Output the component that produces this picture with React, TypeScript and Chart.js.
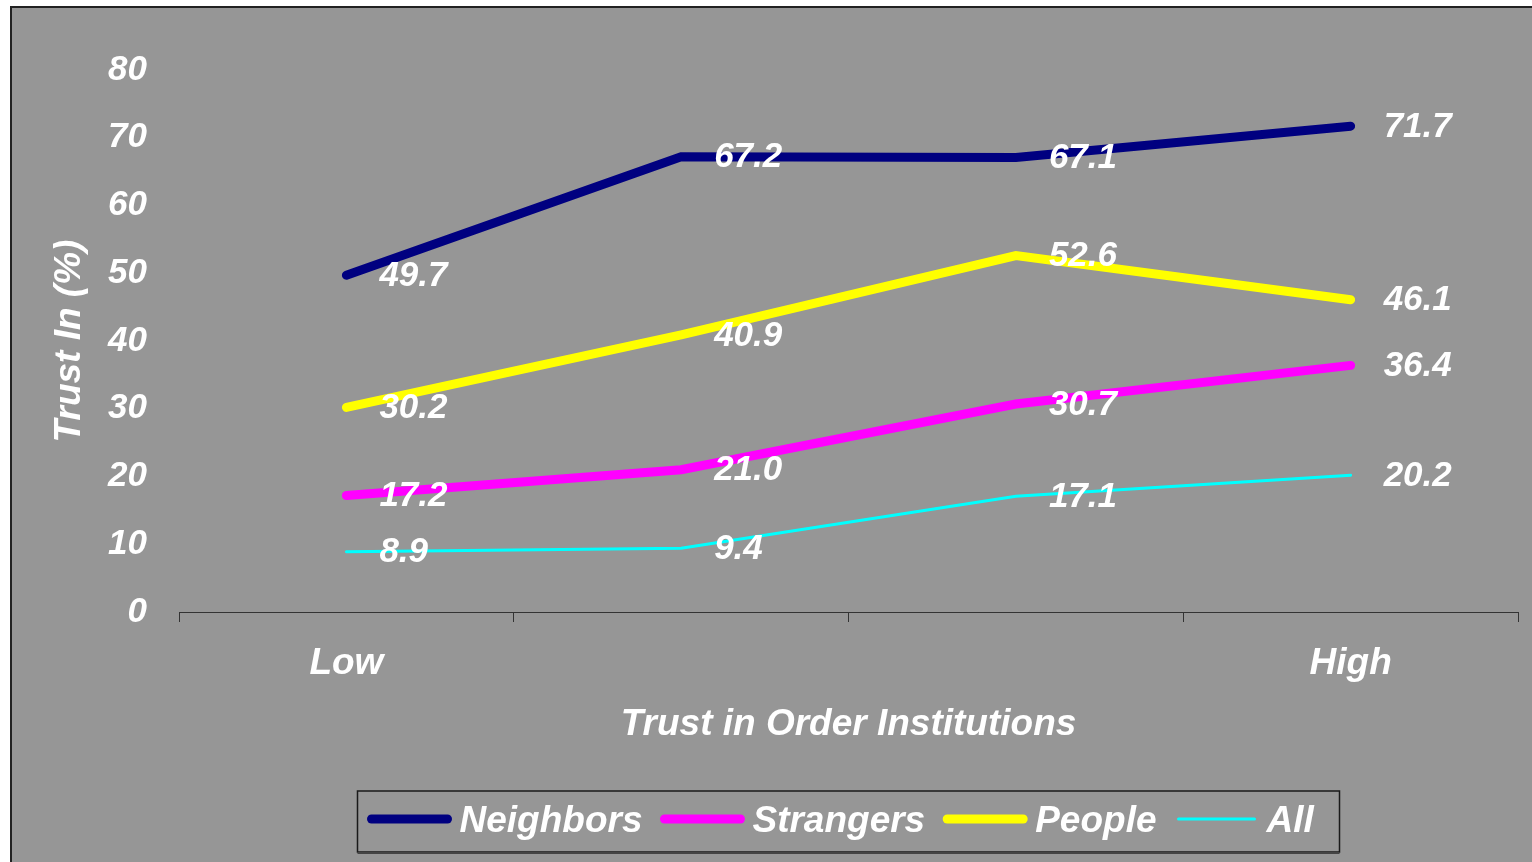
import { useEffect, useRef } from "react";
import { Chart, registerables } from "chart.js";

Chart.register(...registerables);

const categories = ["Low", "", "", "High"];
const seriesNames = ["Neighbors", "Strangers", "People", "All"];
const neighbors = [49.7, 67.2, 67.1, 71.7];
const strangers = [17.2, 21.0, 30.7, 36.4];
const people = [30.2, 40.9, 52.6, 46.1];
const allTrust = [8.9, 9.4, 17.1, 20.2];
const yMin = 0;
const yMax = 80;
const yStep = 10;

const FONT = '"Liberation Sans", Arial, sans-serif';
const BG = "#969696";

const valueLabels = {
  id: "valueLabels",
  afterDatasetsDraw(chart: any) {
    const ctx = chart.ctx;
    ctx.save();
    ctx.font = `italic bold 35px ${FONT}`;
    ctx.fillStyle = "#ffffff";
    ctx.textAlign = "left";
    ctx.textBaseline = "middle";
    chart.data.datasets.forEach((ds: any, i: number) => {
      const meta = chart.getDatasetMeta(i);
      meta.data.forEach((pt: any, j: number) => {
        ctx.fillText(Number(ds.data[j]).toFixed(1), pt.x + 33, pt.y + 1);
      });
    });
    ctx.restore();
  },
};

const boxedLegend = {
  id: "boxedLegend",
  afterDraw(chart: any) {
    const ctx = chart.ctx;
    const area = chart.chartArea;
    ctx.save();
    ctx.font = `italic bold 37px ${FONT}`;
    const boxW = 76;
    const gapText = 12;
    const gapItem = 22;
    const frameW = 982;
    const frameTop = 783;
    const frameH = 61;
    const cx = (area.left + area.right) / 2;
    const frameLeft = cx - frameW / 2;
    // frame
    ctx.strokeStyle = "#1a1a1a";
    ctx.lineWidth = 1.5;
    ctx.strokeRect(frameLeft, frameTop, frameW, frameH);
    ctx.strokeStyle = "#444";
    ctx.lineWidth = 2;
    ctx.beginPath();
    ctx.moveTo(frameLeft, frameTop + frameH + 1);
    ctx.lineTo(frameLeft + frameW, frameTop + frameH + 1);
    ctx.stroke();
    const lineY = frameTop + 28;
    const textY = frameTop + 31;
    let x = frameLeft + 14;
    chart.data.datasets.forEach((ds: any) => {
      ctx.strokeStyle = ds.borderColor;
      ctx.lineWidth = ds.borderWidth;
      ctx.lineCap = "round";
      ctx.beginPath();
      ctx.moveTo(x, lineY);
      ctx.lineTo(x + boxW, lineY);
      ctx.stroke();
      x += boxW + gapText;
      ctx.fillStyle = "#ffffff";
      ctx.textAlign = "left";
      ctx.textBaseline = "middle";
      ctx.fillText(ds.label, x, textY);
      x += ctx.measureText(ds.label).width + gapItem;
    });
    ctx.restore();
  },
};

export default function App() {
  const canvasRef = useRef<HTMLCanvasElement | null>(null);

  useEffect(() => {
    if (!canvasRef.current) return;
    const mk = (label: string, data: number[], color: string, width: number) => ({
      label,
      data,
      borderColor: color,
      backgroundColor: color,
      borderWidth: width,
      borderCapStyle: "round" as const,
      borderJoinStyle: "miter" as const,
      pointRadius: 0,
      pointHoverRadius: 0,
      tension: 0,
      fill: false,
    });
    const chart = new Chart(canvasRef.current, {
      type: "line",
      data: {
        labels: categories,
        datasets: [
          mk(seriesNames[0], neighbors, "#000080", 9),
          mk(seriesNames[1], strangers, "#FF00FF", 9),
          mk(seriesNames[2], people, "#FFFF00", 9),
          mk(seriesNames[3], allTrust, "#00FFFF", 3),
        ],
      },
      options: {
        responsive: false,
        animation: false,
        events: [],
        layout: { padding: { top: 62, right: 14, bottom: 110, left: 0 } },
        plugins: {
          legend: { display: false },
          tooltip: { enabled: false },
          title: { display: false },
        },
        scales: {
          x: {
            type: "category",
            offset: true,
            grid: {
              display: true,
              offset: true,
              drawOnChartArea: false,
              drawTicks: true,
              tickLength: 10,
              color: "#333333",
              lineWidth: 1,
            },
            border: { display: true, color: "#333333", width: 1 },
            ticks: {
              color: "#ffffff",
              font: { family: FONT, size: 37, style: "italic", weight: "bold" },
              padding: 20,
              maxRotation: 0,
              autoSkip: false,
            },
            title: {
              display: true,
              text: "Trust in Order Institutions",
              color: "#ffffff",
              font: { family: FONT, size: 37, style: "italic", weight: "bold" },
              padding: { top: 0, bottom: 5 },
            },
            afterFit(scale: any) {
              scale.height = 140;
            },
          },
          y: {
            type: "linear",
            min: yMin,
            max: yMax,
            grid: { display: false, drawTicks: false },
            border: { display: false },
            ticks: {
              stepSize: yStep,
              color: "#ffffff",
              font: { family: FONT, size: 35, style: "italic", weight: "bold" },
              padding: 32,
            },
            title: {
              display: true,
              text: "Trust In (%)",
              color: "#ffffff",
              font: { family: FONT, size: 37, style: "italic", weight: "bold" },
              padding: { top: 36, bottom: 0 },
            },
            afterFit(scale: any) {
              scale.width = 167;
            },
          },
        },
      },
      plugins: [valueLabels, boxedLegend],
    });
    return () => chart.destroy();
  }, []);

  return (
    <div
      style={{
        position: "fixed",
        left: 0,
        top: 0,
        width: 1532,
        height: 862,
        overflow: "hidden",
        background: "#ffffff",
      }}
    >
      <div
        style={{
          position: "absolute",
          left: 10,
          top: 6,
          width: 1540,
          height: 870,
          background: BG,
          border: "2px solid #222222",
          boxSizing: "border-box",
        }}
      >
        <canvas
          ref={canvasRef}
          width={1520}
          height={854}
          style={{ display: "block", width: 1520, height: 854 }}
        />
      </div>
    </div>
  );
}
